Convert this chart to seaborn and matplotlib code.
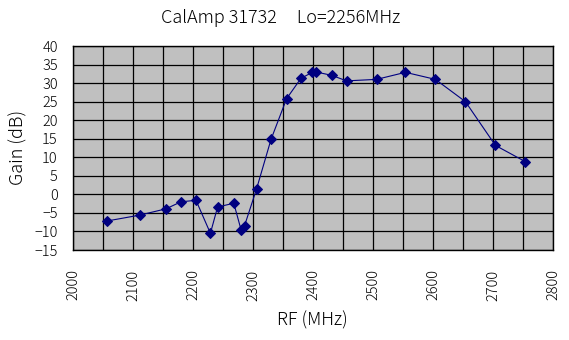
import matplotlib
matplotlib.use("Agg")
import matplotlib.pyplot as plt
import seaborn as sns
import pandas as pd
from matplotlib.ticker import MultipleLocator

freq_mhz = [2056, 2111, 2155, 2180, 2205, 2229, 2241, 2268, 2280, 2286, 2306, 2330,
            2356, 2380, 2399, 2405, 2431, 2456, 2506, 2554, 2604, 2654, 2704, 2754]
gain_db = [-7.2, -5.6, -3.9, -2.0, -1.6, -10.5, -3.4, -2.4, -9.5, -8.4, 1.5, 14.8,
           25.8, 31.3, 32.9, 33.0, 32.1, 30.6, 31.0, 32.9, 31.0, 25.0, 13.2, 8.8]

df = pd.DataFrame({"RF": freq_mhz, "Gain": gain_db})

sns.set_theme(style="white")
plt.rcParams['font.family'] = ['Noto Sans CJK JP', 'DejaVu Sans']
plt.rcParams['font.weight'] = 'light'
plt.rcParams['text.color'] = 'black'
plt.rcParams['xtick.color'] = 'black'
plt.rcParams['ytick.color'] = 'black'

fig = plt.figure(figsize=(5.69, 3.40), dpi=100)
ax = fig.add_axes([73/569, 1-250/340, 480/569, 204/340])
ax.set_facecolor("#C0C0C0")

sns.lineplot(data=df, x="RF", y="Gain", ax=ax, color="#000080", linewidth=0.8,
             marker="D", markersize=5, markeredgecolor="#000080", markerfacecolor="#000080",
             sort=False)

ax.set_xlim(2000, 2800)
ax.set_ylim(-15, 40)
ax.xaxis.set_major_locator(MultipleLocator(100))
ax.xaxis.set_minor_locator(MultipleLocator(50))
ax.yaxis.set_major_locator(MultipleLocator(5))
ax.grid(True, which="both", color="black", linewidth=0.9)
ax.set_axisbelow(True)
for s in ax.spines.values():
    s.set_color("black")
    s.set_linewidth(1.0)

ax.tick_params(axis="x", which="both", length=0, labelsize=10.5, rotation=90, pad=14,
               labelcolor="black")
ax.tick_params(axis="y", which="both", length=0, labelsize=10.5, pad=11, labelcolor="black")
for lbl in ax.get_xticklabels() + ax.get_yticklabels():
    lbl.set_fontweight("light")
ax.set_xlabel("")
ax.set_ylabel("")
fig.text(312/569, 1-320/340, "RF (MHz)", ha="center", va="center", fontsize=13,
         color="black", fontweight="light")
fig.text(18/569, 1-147/340, "Gain (dB)", ha="center", va="center", fontsize=13,
         rotation=90, color="black", fontweight="light")
fig.text(281/569, 1-18/340, "CalAmp 31732     Lo=2256MHz", ha="center", va="center",
         fontsize=13, color="black", fontweight="light")

fig.savefig("out.png", dpi=100)
